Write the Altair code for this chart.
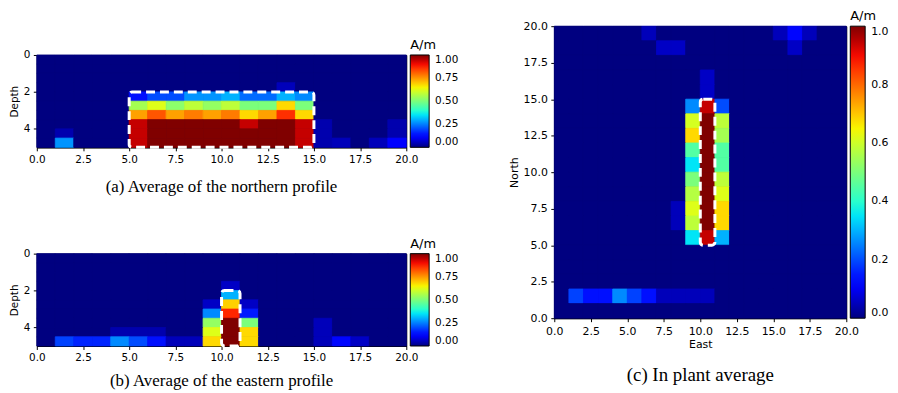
import altair as alt
import pandas as pd

# ---------------- data ----------------
EAST_EDGES = list(range(21))                       # 0..20, 1-unit columns
DEPTH_EDGES = [i * 0.5 for i in range(11)]         # 0..5, 0.5-unit rows
NORTH_EDGES = list(range(21))                      # 0..20, 1-unit rows

# Panel (a): rows = depth 0-0.5 ... 4.5-5, columns = x 0..19
NORTH_PROFILE = [
    [0, 0, 0, 0, 0, 0, 0, 0, 0, 0, 0, 0, 0, 0, 0, 0, 0, 0, 0, 0],
    [0, 0, 0, 0, 0, 0, 0, 0, 0, 0, 0, 0, 0, 0, 0, 0, 0, 0, 0, 0],
    [0, 0, 0, 0, 0, 0, 0, 0, 0, 0, 0, 0, 0, 0, 0, 0, 0, 0, 0, 0],
    [0, 0, 0, 0, 0, 0, 0, 0, 0, 0, 0, 0, 0, 0.05, 0, 0, 0, 0, 0, 0],
    [0, 0, 0, 0, 0, 0.14, 0.20, 0.20, 0.27, 0.27, 0.30, 0.23, 0.23, 0.30, 0.26, 0, 0, 0, 0, 0],
    [0, 0, 0, 0, 0, 0.55, 0.62, 0.52, 0.58, 0.53, 0.58, 0.50, 0.50, 0.68, 0.50, 0, 0, 0, 0, 0],
    [0, 0, 0, 0, 0, 0.74, 0.82, 0.74, 0.78, 0.74, 0.78, 0.68, 0.74, 0.86, 0.68, 0, 0, 0, 0, 0],
    [0, 0, 0, 0, 0, 0.94, 1.0, 1.0, 1.0, 1.0, 1.0, 0.94, 1.0, 1.0, 0.94, 0.04, 0, 0, 0, 0.04],
    [0, 0.04, 0, 0, 0, 0.94, 1.0, 1.0, 1.0, 1.0, 1.0, 1.0, 1.0, 1.0, 0.94, 0.04, 0, 0, 0, 0.04],
    [0, 0.27, 0, 0, 0, 0.94, 1.0, 1.0, 1.0, 1.0, 1.0, 1.0, 1.0, 1.0, 0.94, 0.04, 0.05, 0, 0.05, 0.12],
]

# Panel (b): rows = depth 0-0.5 ... 4.5-5, columns = x 0..19
EAST_PROFILE = [
    [0, 0, 0, 0, 0, 0, 0, 0, 0, 0, 0, 0, 0, 0, 0, 0, 0, 0, 0, 0],
    [0, 0, 0, 0, 0, 0, 0, 0, 0, 0, 0, 0, 0, 0, 0, 0, 0, 0, 0, 0],
    [0, 0, 0, 0, 0, 0, 0, 0, 0, 0, 0, 0, 0, 0, 0, 0, 0, 0, 0, 0],
    [0, 0, 0, 0, 0, 0, 0, 0, 0, 0, 0.06, 0, 0, 0, 0, 0, 0, 0, 0, 0],
    [0, 0, 0, 0, 0, 0, 0, 0, 0, 0, 0.30, 0, 0, 0, 0, 0, 0, 0, 0, 0],
    [0, 0, 0, 0, 0, 0, 0, 0, 0, 0.06, 0.69, 0.06, 0, 0, 0, 0, 0, 0, 0, 0],
    [0, 0, 0, 0, 0, 0, 0, 0, 0, 0.26, 0.87, 0.15, 0, 0, 0, 0, 0, 0, 0, 0],
    [0, 0, 0, 0, 0, 0, 0, 0, 0, 0.53, 1.0, 0.50, 0, 0, 0, 0.05, 0, 0, 0, 0],
    [0, 0, 0, 0, 0.04, 0.04, 0.04, 0, 0, 0.62, 1.0, 0.68, 0, 0, 0, 0.05, 0, 0, 0, 0],
    [0, 0.19, 0.16, 0.16, 0.26, 0.20, 0.14, 0.05, 0.05, 0.68, 1.0, 0.68, 0, 0, 0, 0.05, 0.13, 0.06, 0, 0],
]

# Panel (c): rows = North 19-20 (top) ... 0-1 (bottom), columns = East 0..19
IN_PLANT = [
    [0, 0, 0, 0, 0, 0, 0.05, 0, 0, 0, 0, 0, 0, 0, 0, 0.05, 0.13, 0.05, 0, 0],
    [0, 0, 0, 0, 0, 0, 0, 0.06, 0.06, 0, 0, 0, 0, 0, 0, 0, 0.06, 0, 0, 0],
    [0, 0, 0, 0, 0, 0, 0, 0, 0, 0, 0, 0, 0, 0, 0, 0, 0, 0, 0, 0],
    [0, 0, 0, 0, 0, 0, 0, 0, 0, 0, 0.06, 0, 0, 0, 0, 0, 0, 0, 0, 0],
    [0, 0, 0, 0, 0, 0, 0, 0, 0, 0, 0.06, 0, 0, 0, 0, 0, 0, 0, 0, 0],
    [0, 0, 0, 0, 0, 0, 0, 0, 0, 0.26, 0.94, 0.20, 0, 0, 0, 0, 0, 0, 0, 0],
    [0, 0, 0, 0, 0, 0, 0, 0, 0, 0.61, 1.0, 0.58, 0, 0, 0, 0, 0, 0, 0, 0],
    [0, 0, 0, 0, 0, 0, 0, 0, 0, 0.68, 1.0, 0.55, 0, 0, 0, 0, 0, 0, 0, 0],
    [0, 0, 0, 0, 0, 0, 0, 0, 0, 0.45, 1.0, 0.45, 0, 0, 0, 0, 0, 0, 0, 0],
    [0, 0, 0, 0, 0, 0, 0, 0, 0, 0.35, 1.0, 0.45, 0, 0, 0, 0, 0, 0, 0, 0],
    [0, 0, 0, 0, 0, 0, 0, 0, 0, 0.50, 1.0, 0.58, 0, 0, 0, 0, 0, 0, 0, 0],
    [0, 0, 0, 0, 0, 0, 0, 0, 0, 0.57, 1.0, 0.62, 0, 0, 0, 0, 0, 0, 0, 0],
    [0, 0, 0, 0, 0, 0, 0, 0, 0.05, 0.62, 1.0, 0.68, 0, 0, 0, 0, 0, 0, 0, 0],
    [0, 0, 0, 0, 0, 0, 0, 0, 0.05, 0.58, 1.0, 0.68, 0, 0, 0, 0, 0, 0, 0, 0],
    [0, 0, 0, 0, 0, 0, 0, 0, 0, 0.35, 0.94, 0.30, 0, 0, 0, 0, 0, 0, 0, 0],
    [0, 0, 0, 0, 0, 0, 0, 0, 0, 0, 0, 0, 0, 0, 0, 0, 0, 0, 0, 0],
    [0, 0, 0, 0, 0, 0, 0, 0, 0, 0, 0, 0, 0, 0, 0, 0, 0, 0, 0, 0],
    [0, 0, 0, 0, 0, 0, 0, 0, 0, 0, 0, 0, 0, 0, 0, 0, 0, 0, 0, 0],
    [0, 0.19, 0.14, 0.14, 0.26, 0.19, 0.14, 0.05, 0.05, 0.05, 0.05, 0, 0, 0, 0, 0, 0, 0, 0, 0],
    [0, 0, 0, 0, 0, 0, 0, 0, 0, 0, 0, 0, 0, 0, 0, 0, 0, 0, 0, 0],
]

# Dashed outlines (x0, x1, y0, y1)
NORTH_BOX = [5, 15, 2, 5]
EAST_BOX = [10, 11, 2, 5]
PLANT_BOX = [10, 11, 5, 15]

AXIS_TICKS = [0, 2.5, 5, 7.5, 10, 12.5, 15, 17.5, 20]
DEPTH_TICKS = [0, 2, 4]
CB_TICKS_AB = [0, 0.25, 0.5, 0.75, 1.0]
CB_TICKS_C = [0, 0.2, 0.4, 0.6, 0.8, 1.0]

CAPTIONS = [
    "(a) Average of the northern profile",
    "(b) Average of the eastern profile",
    "(c) In plant average",
]

# matplotlib "jet" colormap breakpoints
JET_STOPS = [0, 0.11, 0.125, 0.34, 0.35, 0.375, 0.64, 0.65, 0.66, 0.89, 0.91, 1.0]
JET_COLORS = ["#000080", "#0000ff", "#0000ff", "#00dbff", "#00e5f7", "#15ffe2",
              "#eeff08", "#f7f500", "#ffec00", "#ff1300", "#e80000", "#800000"]


def grid_frame(grid, col_edges, row_edges, top_down):
    recs = []
    n = len(grid)
    for r, row in enumerate(grid):
        ri = (n - 1 - r) if top_down else r
        for c, v in enumerate(row):
            recs.append({"x0": col_edges[c], "x1": col_edges[c + 1],
                         "y0": row_edges[ri], "y1": row_edges[ri + 1], "v": v})
    return pd.DataFrame(recs)


def box_frame(box):
    return pd.DataFrame([{"x0": box[0], "x1": box[1], "y0": box[2], "y1": box[3]}])


FONT = "DejaVu Sans"


def panel(df, box, w, h, ydom, yrev, yticks, yfmt, xtitle, ytitle,
          cbticks, cbfmt, cbthick, caption, capsize, capoffset, fs):
    cscale = alt.Scale(domain=JET_STOPS, range=JET_COLORS, interpolate="rgb")
    xaxis = alt.Axis(values=AXIS_TICKS, format=".1f", labelFlush=False, labelOverlap=False,
                     labelSeparation=0, tickCount=len(AXIS_TICKS),
                     labelFontSize=fs, titleFontSize=fs, title=xtitle)
    yaxis = alt.Axis(values=yticks, format=yfmt, labelFlush=False, labelOverlap=False,
                     labelSeparation=0, tickCount=len(yticks),
                     labelFontSize=fs, titleFontSize=fs, title=ytitle)
    xscale = alt.Scale(domain=[0, 20], nice=False, zero=False)
    yscale = alt.Scale(domain=ydom, nice=False, zero=False, reverse=yrev)
    legend = alt.Legend(
        title="A/m", orient="none", legendX=w + 4, legendY=-16, direction="vertical",
        gradientLength=h, gradientThickness=cbthick, gradientStrokeColor="black",
        gradientStrokeWidth=1, values=cbticks, format=cbfmt, labelFontSize=fs,
        labelFont=FONT, labelColor="black", labelOffset=6, labelOverlap=False,
        labelBaseline="middle",
        titleFontSize=13, titleFont=FONT, titleFontWeight="normal", titleColor="black",
        titlePadding=3, titleAnchor="start",
    )
    cells = alt.Chart(df).mark_rect(strokeWidth=0.8).encode(
        x=alt.X("x0:Q", scale=xscale, axis=xaxis),
        x2="x1:Q",
        y=alt.Y("y0:Q", scale=yscale, axis=yaxis),
        y2="y1:Q",
        color=alt.Color("v:Q", scale=cscale, legend=legend),
        stroke=alt.Stroke("v:Q", scale=cscale, legend=None),
    )
    outline = alt.Chart(box_frame(box)).mark_rect(
        filled=False, stroke="white", strokeWidth=3, strokeDash=[9, 5], cornerRadius=3
    ).encode(
        x=alt.X("x0:Q", scale=xscale, axis=xaxis),
        x2="x1:Q",
        y=alt.Y("y0:Q", scale=yscale, axis=yaxis),
        y2="y1:Q",
    )
    return alt.layer(cells, outline).properties(
        width=w, height=h,
        view=alt.ViewBackground(fill="#000080", stroke="black", strokeWidth=1),
        title=alt.TitleParams(caption, orient="bottom", anchor="middle", frame="group",
                              font="Liberation Serif", fontSize=capsize, fontWeight="normal",
                              color="black", offset=capoffset),
    )


df_a = grid_frame(NORTH_PROFILE, EAST_EDGES, DEPTH_EDGES, top_down=False)
df_b = grid_frame(EAST_PROFILE, EAST_EDGES, DEPTH_EDGES, top_down=False)
df_c = grid_frame(IN_PLANT, EAST_EDGES, NORTH_EDGES, top_down=True)

pa = panel(df_a, NORTH_BOX, 372, 93, [0, 5], True, DEPTH_TICKS, "d", None, "Depth",
           CB_TICKS_AB, ".2f", 19, CAPTIONS[0], 17, 14, 10.5)
pb = panel(df_b, EAST_BOX, 372, 93, [0, 5], True, DEPTH_TICKS, "d", None, "Depth",
           CB_TICKS_AB, ".2f", 19, CAPTIONS[1], 17, 10, 10.5)
pc = panel(df_c, PLANT_BOX, 294, 294, [0, 20], False, AXIS_TICKS, ".1f", "East", "North",
           CB_TICKS_C, ".1f", 15, CAPTIONS[2], 19, 16, 11)

spacer = alt.Chart(pd.DataFrame({"s": [0]})).mark_point(opacity=0, size=1).encode(
    x=alt.value(0), y=alt.value(0)
).properties(width=10, height=10, view=alt.ViewBackground(stroke="transparent", fill="transparent"))

left_ab = alt.vconcat(pa, pb, spacing=42).resolve_scale(color="independent").resolve_legend(color="independent")
left = alt.vconcat(spacer, left_ab, spacing=1).resolve_scale(color="independent").resolve_legend(color="independent")

chart = alt.hconcat(left, pc, spacing=48).resolve_scale(
    color="independent"
).resolve_legend(color="independent").properties(
    padding={"left": 0, "top": 0, "right": 0, "bottom": 0}
).configure_view(
    stroke="black", strokeWidth=1
).configure_axis(
    grid=False, domainColor="black", tickColor="black", labelColor="black", titleColor="black",
    labelFont=FONT, titleFont=FONT, titleFontWeight="normal", tickSize=3.5, labelPadding=3.5,
    titlePadding=4, domainWidth=1, tickWidth=1
).configure_axisX(titlePadding=3)

chart.save("out.html", embed_options={"renderer": "svg", "actions": False})
